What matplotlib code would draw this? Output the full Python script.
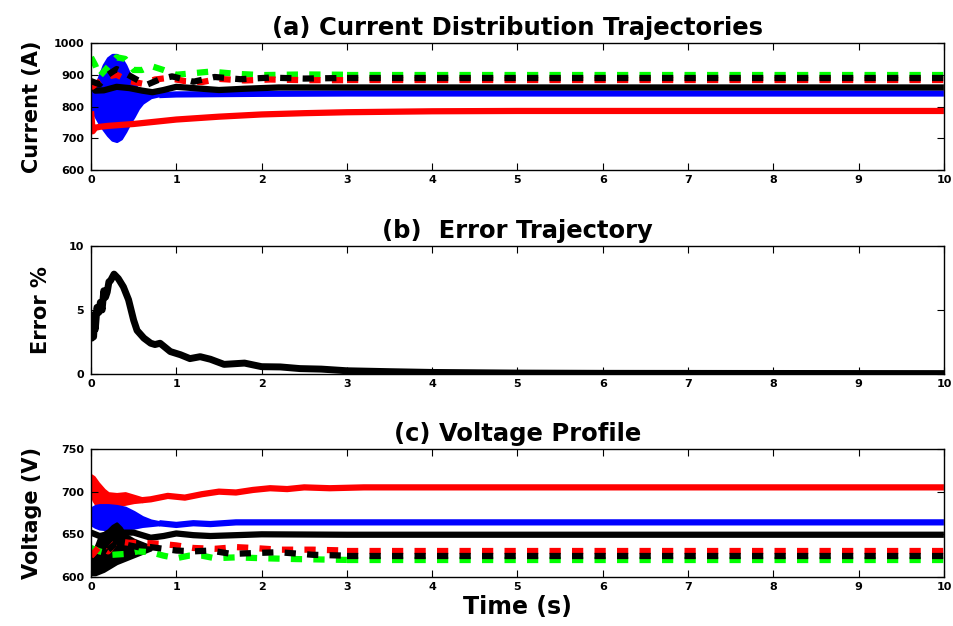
import matplotlib
matplotlib.use('Agg')
import matplotlib.pyplot as plt

# ---------------- data ----------------
# (a) current distribution
ta_red = [0, 0.02, 0.05, 0.1, 0.2, 0.3, 0.5, 0.75, 1.0, 1.5, 2.0, 2.5, 3.0, 4.0, 5.0, 7.0, 10.0]
ia_red = [785, 722, 733, 736, 739, 741, 745, 752, 759, 768, 775, 779, 782, 785, 786, 786, 786]

ta_blue_env = [0, 0.05, 0.1, 0.15, 0.2, 0.25, 0.3, 0.35, 0.4, 0.45, 0.5, 0.55, 0.6, 0.7, 0.8]
ia_blue_hi = [845, 860, 895, 930, 952, 962, 962, 952, 930, 900, 870, 855, 848, 842, 838]
ia_blue_lo = [800, 772, 748, 728, 710, 696, 692, 700, 722, 748, 770, 795, 812, 830, 836]
ta_blue = [0.8, 1.0, 1.5, 2.0, 3.0, 5.0, 10.0]
ia_blue = [836, 838, 839, 840, 841, 841, 841]

ta_black = [0, 0.05, 0.15, 0.3, 0.45, 0.6, 0.72, 0.85, 1.0, 1.2, 1.5, 1.8, 2.2, 3.0, 10.0]
ia_black = [880, 850, 851, 862, 858, 850, 845, 852, 862, 858, 852, 856, 860, 860, 860]

ta_green_d = [0, 0.05, 0.1, 0.2, 0.3, 0.4, 0.5, 0.6, 0.7, 0.85, 1.0, 1.2, 1.4, 1.7, 2.0, 2.5, 3.0, 10.0]
ia_green_d = [955, 930, 895, 925, 955, 950, 915, 915, 928, 915, 900, 905, 910, 903, 899, 901, 900, 900]

ta_red_d = [0, 0.1, 0.2, 0.3, 0.45, 0.6, 0.75, 0.9, 1.1, 1.3, 1.5, 1.8, 2.1, 2.5, 3.0, 10.0]
ia_red_d = [860, 878, 895, 900, 880, 872, 885, 890, 880, 877, 887, 882, 885, 883, 883, 883]

ta_black_d = [0, 0.1, 0.2, 0.3, 0.4, 0.5, 0.65, 0.8, 0.95, 1.2, 1.45, 1.75, 2.1, 2.5, 3.0, 10.0]
ia_black_d = [880, 870, 900, 918, 905, 890, 868, 885, 895, 878, 893, 886, 891, 888, 890, 890]

# (b) error
tb_err = [0, 0.01, 0.02, 0.03, 0.04, 0.05, 0.07, 0.09, 0.11, 0.13, 0.15, 0.17, 0.19, 0.21,
          0.23, 0.27, 0.32, 0.38, 0.44, 0.5, 0.54, 0.62, 0.7, 0.75, 0.81, 0.93, 1.05, 1.16,
          1.28, 1.4, 1.56, 1.8, 2.0, 2.22, 2.45, 2.7, 3.0, 3.5, 4.0, 5.0, 6.0, 8.0, 10.0]
eb_err = [4.6, 2.8, 4.5, 2.9, 4.0, 3.5, 5.2, 4.8, 5.6, 5.0, 6.5, 6.0, 6.4, 7.2,
          7.3, 7.8, 7.45, 6.8, 5.8, 4.2, 3.4, 2.8, 2.4, 2.3, 2.4, 1.75, 1.5, 1.2,
          1.35, 1.15, 0.75, 0.85, 0.57, 0.55, 0.42, 0.38, 0.25, 0.18, 0.12, 0.07, 0.05, 0.04, 0.03]

# (c) voltage profile
tc_red_env = [0, 0.03, 0.08, 0.15, 0.2, 0.3, 0.4, 0.5, 0.6]
vc_red_hi = [719, 717, 710, 702, 698, 697, 698, 695, 692]
vc_red_lo = [700, 690, 682, 680, 681, 684, 686, 688, 689]
tc_red = [0.6, 0.7, 0.8, 0.9, 1.0, 1.1, 1.2, 1.3, 1.5, 1.7, 1.9, 2.1, 2.3, 2.5, 2.8, 3.2, 4.0, 5.0, 10.0]
vc_red = [690, 691, 693, 695, 694, 693, 695, 697, 700, 699, 702, 704, 703, 705, 704, 705, 705, 705, 705]

tc_blue_env = [0, 0.05, 0.1, 0.2, 0.3, 0.4, 0.5, 0.6, 0.7, 0.8]
vc_blue_hi = [680, 683, 684, 684, 683, 681, 676, 670, 666, 664]
vc_blue_lo = [662, 659, 657, 656, 656, 657, 658, 660, 661, 662]
tc_blue = [0.8, 1.0, 1.2, 1.4, 1.7, 2.0, 2.5, 3.0, 10.0]
vc_blue = [663, 661, 663, 662, 664, 664, 664, 664, 664]

tc_black = [0, 0.1, 0.2, 0.35, 0.5, 0.6, 0.7, 0.85, 1.0, 1.2, 1.4, 1.7, 2.0, 3.0, 10.0]
vc_black = [652, 648, 650, 652, 652, 649, 646, 648, 651, 649, 648, 649, 650, 649.5, 649.5]

tc_bosc_env = [0, 0.05, 0.1, 0.15, 0.2, 0.25, 0.3, 0.35, 0.4, 0.5, 0.6, 0.7]
vc_bosc_hi = [622, 635, 648, 652, 655, 660, 663, 658, 650, 644, 640, 636]
vc_bosc_lo = [603, 603, 605, 607, 610, 613, 616, 618, 620, 624, 628, 632]

tc_red_d = [0, 0.1, 0.2, 0.3, 0.45, 0.6, 0.8, 1.0, 1.2, 1.45, 1.7, 1.9, 2.2, 2.6, 3.0, 10.0]
vc_red_d = [624, 636, 630, 642, 640, 640, 639, 637, 634, 633, 635, 634, 632, 632, 631, 631]

tc_black_d = [0, 0.3, 0.6, 0.7, 0.85, 1.0, 1.2, 1.4, 1.65, 1.9, 2.2, 2.6, 3.0, 10.0]
vc_black_d = [615, 640, 634, 635, 633, 631, 630, 631, 627, 628, 629, 626, 625, 625]

tc_green_d = [0, 0.1, 0.25, 0.4, 0.55, 0.7, 0.85, 1.0, 1.15, 1.3, 1.45, 1.7, 2.0, 2.4, 3.0, 10.0]
vc_green_d = [634, 630, 626, 627, 630, 629, 625, 622, 625, 625, 622, 623, 622, 621, 620, 620]

x_ticks = [0, 1, 2, 3, 4, 5, 6, 7, 8, 9, 10]
ya_ticks = [600, 700, 800, 900, 1000]
yb_ticks = [0, 5, 10]
yc_ticks = [600, 650, 700, 750]

# ---------------- figure ----------------
plt.rcParams['font.family'] = ['DejaVu Sans']
plt.rcParams['font.weight'] = 'bold'

RED, BLUE, GREEN, BLACK = '#ff0000', '#0000ff', '#00ff00', '#000000'
LW = 4.5
SPLIT = 3.0  # restart dash pattern here so the steady-state dashes line up

fig = plt.figure(figsize=(9.54, 6.26), dpi=100)
L, W = 0.0954, 0.894
ax_a = fig.add_axes([L, 0.7284, W, 0.2029])
ax_b = fig.add_axes([L, 0.4026, W, 0.2045])
ax_c = fig.add_axes([L, 0.0783, W, 0.2045])


def style(ax, yticks, ylim):
    ax.set_xlim(0, 10)
    ax.set_ylim(*ylim)
    ax.set_xticks(x_ticks)
    ax.set_yticks(yticks)
    ax.tick_params(direction='in', top=True, right=True, length=5, width=0.8,
                   labelsize=8)
    ax.tick_params(axis='y', pad=5)
    for lab in ax.get_xticklabels() + ax.get_yticklabels():
        lab.set_fontweight('bold')
    for s in ax.spines.values():
        s.set_linewidth(1.0)


def dashed(ax, t, v, color):
    head = [(a, b) for a, b in zip(t, v) if a <= SPLIT]
    tail = [(a, b) for a, b in zip(t, v) if a >= SPLIT]
    for part in (head, tail):
        if len(part) > 1:
            xs, ys = zip(*part)
            ax.plot(xs, ys, color=color, lw=LW, dashes=(1.8, 1.8), dash_capstyle='butt')


# (a)
ax_a.plot(ta_red, ia_red, color=RED, lw=LW, solid_capstyle='butt')
ax_a.fill_between(ta_blue_env, ia_blue_lo, ia_blue_hi, color=BLUE, lw=2.5)
ax_a.plot(ta_blue, ia_blue, color=BLUE, lw=LW, solid_capstyle='butt')
ax_a.plot(ta_black, ia_black, color=BLACK, lw=LW, solid_capstyle='butt')
dashed(ax_a, ta_green_d, ia_green_d, GREEN)
dashed(ax_a, ta_red_d, ia_red_d, RED)
dashed(ax_a, ta_black_d, ia_black_d, BLACK)
style(ax_a, ya_ticks, (600, 1000))
ax_a.set_title('(a) Current Distribution Trajectories', fontsize=17.5, fontweight='bold', pad=6)
ax_a.set_ylabel('Current (A)', fontsize=15, fontweight='bold')
ax_a.yaxis.set_label_coords(-0.057, 0.5)

# (b)
ax_b.plot(tb_err, eb_err, color=BLACK, lw=5)
style(ax_b, yb_ticks, (0, 10))
ax_b.set_title('(b)  Error Trajectory', fontsize=17.5, fontweight='bold', pad=6)
ax_b.set_ylabel('Error %', fontsize=15, fontweight='bold')
ax_b.yaxis.set_label_coords(-0.047, 0.5)

# (c)
ax_c.fill_between(tc_red_env, vc_red_lo, vc_red_hi, color=RED, lw=2.5)
ax_c.plot(tc_red, vc_red, color=RED, lw=LW, solid_capstyle='butt')
ax_c.fill_between(tc_blue_env, vc_blue_lo, vc_blue_hi, color=BLUE, lw=2.5)
ax_c.plot(tc_blue, vc_blue, color=BLUE, lw=LW, solid_capstyle='butt')
ax_c.plot(tc_black, vc_black, color=BLACK, lw=LW, solid_capstyle='butt')
dashed(ax_c, tc_green_d, vc_green_d, GREEN)
dashed(ax_c, tc_red_d, vc_red_d, RED)
dashed(ax_c, tc_black_d, vc_black_d, BLACK)
ax_c.fill_between(tc_bosc_env, vc_bosc_lo, vc_bosc_hi, color=BLACK, lw=2)
style(ax_c, yc_ticks, (600, 750))
ax_c.set_title('(c) Voltage Profile', fontsize=17.5, fontweight='bold', pad=6)
ax_c.set_ylabel('Voltage (V)', fontsize=15, fontweight='bold')
ax_c.yaxis.set_label_coords(-0.057, 0.5)
ax_c.set_xlabel('Time (s)', fontsize=17, fontweight='bold')
ax_c.xaxis.set_label_coords(0.5, -0.14)

fig.savefig('out.png', dpi=100)
